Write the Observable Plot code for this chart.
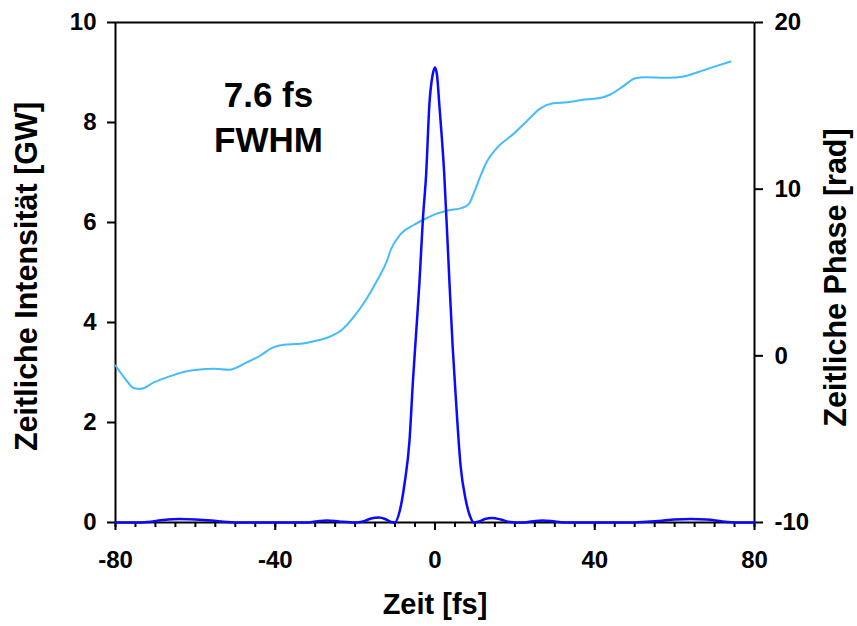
<!DOCTYPE html>
<html>
<head>
<meta charset="utf-8">
<script src="https://cdn.jsdelivr.net/npm/d3@7"></script>
<script src="https://cdn.jsdelivr.net/npm/@observablehq/plot@0.6"></script>
<style>
  html, body { margin: 0; padding: 0; background: white; }
  #chart svg { display: block; }
</style>
</head>
<body>
<div id="chart"></div>
<script>
// ---- Data ----
const intensityTime = [-80,-75,-72,-68,-64,-60,-56,-52,-48,-40,-32,-30,-27,-24,-20,-18,-16,-14,-12.5,-11,-10.1,-8.8,-7.6,-6.4,-5.5,-4.7,-3.9,-3.06,-2.2,-1.4,-0.6,0,0.5,1.07,2.3,3.55,4.4,5.2,6.4,7.7,8.8,9.75,11,12.5,14.3,16.5,18.8,22,24,27,30,33,40,48,52,56,60,64,68,72,76,80];
const intensityGW   = [0,0,0.01,0.05,0.07,0.06,0.04,0.01,0,0,0,0.02,0.04,0.02,0,0.02,0.08,0.1,0.07,0.01,0,0.24,0.79,1.62,2.86,3.82,4.79,6.03,6.99,8.37,8.95,9.1,8.95,8.37,6.99,4.92,3.55,2.51,1.14,0.45,0.12,0,0.02,0.07,0.09,0.06,0.01,0,0.02,0.04,0.02,0,0,0,0.01,0.03,0.06,0.07,0.06,0.02,0,0];

const phaseTime = [-80,-77.5,-75.4,-73.7,-70.3,-67,-63.2,-59.5,-55.3,-51.6,-47,-43.7,-40.8,-37.9,-33.7,-29.5,-26.2,-23.3,-20.4,-17.4,-14.5,-12,-11.1,-8.6,-5.3,-2,0.1,3.2,6.8,8.5,9.7,11.4,13.1,15.6,19.7,23.1,26.4,29.3,33.1,38.1,41,43.9,46.8,50.2,52.6,58.5,62.3,65.6,69.8,74];
const phaseRad  = [-0.58,-1.4,-1.94,-1.98,-1.58,-1.28,-0.98,-0.84,-0.78,-0.84,-0.38,0.02,0.48,0.66,0.72,0.92,1.16,1.56,2.32,3.32,4.52,5.72,6.35,7.3,7.85,8.27,8.5,8.72,8.88,9.12,9.75,10.8,11.7,12.5,13.32,14.11,14.85,15.14,15.21,15.39,15.45,15.68,16.12,16.66,16.72,16.68,16.76,17.0,17.34,17.66];

const xTicks = [-80,-40,0,40,80];
const xMinorTicks = d3.range(-80, 81, 5);
const intensityTicks = [0,2,4,6,8,10];
const phaseTicks = [-10,0,10,20];

const xLabel = "Zeit [fs]";
const yLeftLabel = "Zeitliche Intensität [GW]";
const yRightLabel = "Zeitliche Phase [rad]";
const annotation = "7.6 fs\nFWHM";

// phase axis (-10..20 rad) mapped onto the intensity axis (0..10 GW)
const phaseToY = p => (p + 10) / 3;
const yToPhase = y => y * 3 - 10;

const intensity = intensityTime.map((t, i) => ({t, v: intensityGW[i]}));
const phase = phaseTime.map((t, i) => ({t, v: phaseToY(phaseRad[i])}));

const font = "'Liberation Sans', Arial, Helvetica, sans-serif";

const chart = Plot.plot({
  width: 857,
  height: 626,
  marginLeft: 115,
  marginRight: 103,
  marginTop: 22,
  marginBottom: 104,
  x: {domain: [-80, 80]},
  y: {domain: [0, 10]},
  style: {fontFamily: font, fontWeight: "bold", background: "white", color: "black", overflow: "visible"},
  marks: [
    // frame lines
    Plot.ruleY([0, 10], {stroke: "black", strokeWidth: 2}),
    Plot.ruleX([-80, 80], {stroke: "black", strokeWidth: 2}),
    // axes
    Plot.axisX({ticks: xMinorTicks, tickSize: 5, tickFormat: () => "", strokeWidth: 2, label: null}),
    Plot.axisX({ticks: xTicks, tickSize: 8, tickPadding: 20, tickFormat: d => String(d), fontSize: 24, fontWeight: "bold", strokeWidth: 2, label: null}),
    Plot.axisY({anchor: "left", ticks: intensityTicks, tickSize: 8, tickPadding: 11, tickFormat: d => String(d), fontSize: 24, fontWeight: "bold", strokeWidth: 2, label: null}),
    Plot.axisY({anchor: "right", ticks: phaseTicks.map(phaseToY), tickFormat: y => String(Math.round(yToPhase(y))), tickSize: 8, tickPadding: 12, fontSize: 24, fontWeight: "bold", strokeWidth: 2, label: null}),
    // axis titles
    Plot.text([xLabel], {frameAnchor: "bottom", dy: 82, lineAnchor: "middle", textAnchor: "middle", fontSize: 29, fontWeight: "bold", fill: "black"}),
    Plot.text([yLeftLabel], {frameAnchor: "left", dx: -88, dy: 4, rotate: -90, lineAnchor: "middle", textAnchor: "middle", fontSize: 30.5, fontWeight: "bold", fill: "black"}),
    Plot.text([yRightLabel], {frameAnchor: "right", dx: 82, dy: 5, rotate: -90, lineAnchor: "middle", textAnchor: "middle", fontSize: 30.5, fontWeight: "bold", fill: "black"}),
    // annotation
    Plot.text([annotation], {x: () => -41.7, y: () => 8.15, lineAnchor: "middle", lineHeight: 1.3, fontSize: 35, fontWeight: "bold", fill: "black"}),
    // data
    Plot.line(phase, {x: "t", y: "v", stroke: "#44bbff", strokeWidth: 2, curve: "monotone-x"}),
    Plot.line(intensity, {x: "t", y: "v", stroke: "#0a0aff", strokeWidth: 2.5, curve: "monotone-x"})
  ]
});

document.getElementById("chart").appendChild(chart);
</script>
</body>
</html>
